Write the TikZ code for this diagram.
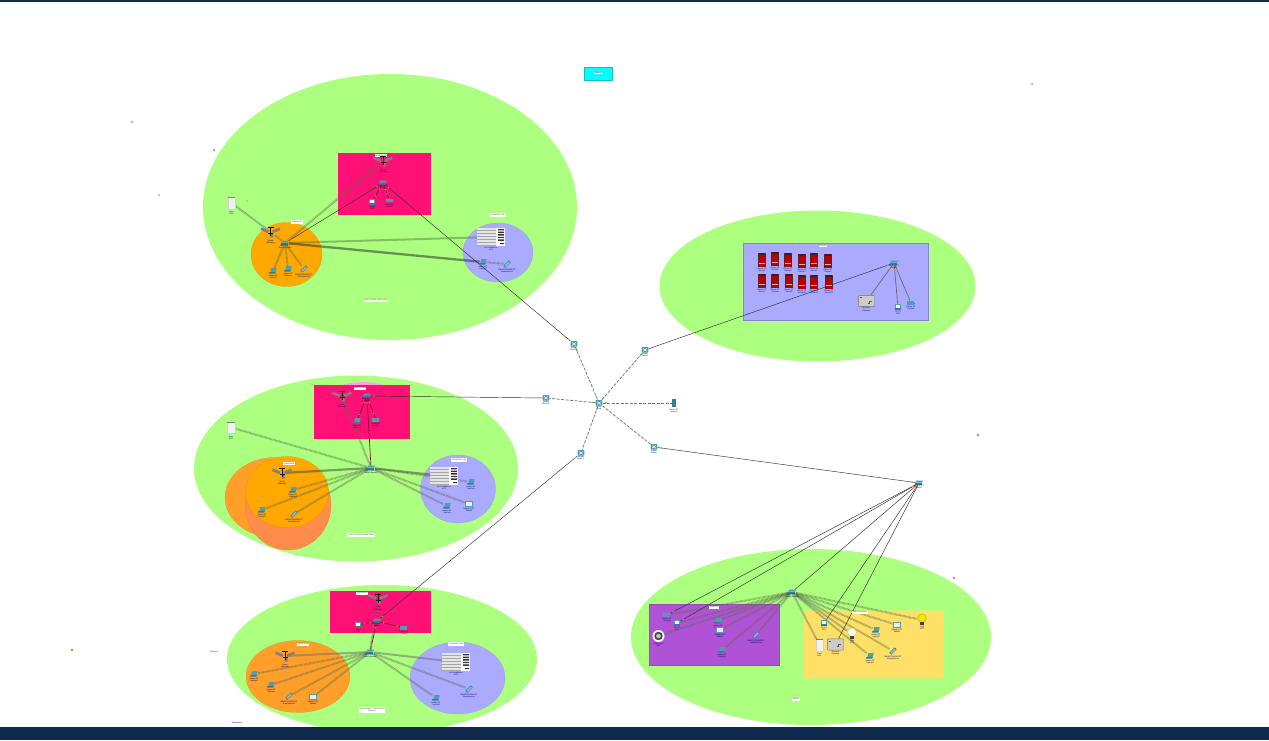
\documentclass[tikz,border=0pt]{standalone}
\usepackage{fontspec}
\setmainfont{Liberation Sans}
\usetikzlibrary{calc}
\definecolor{navy}{HTML}{0F2A4C}
\definecolor{lawn}{HTML}{ADFF80}
\definecolor{hotpink}{HTML}{FF1075}
\definecolor{orangeA}{HTML}{FFA800}
\definecolor{orangeB}{HTML}{FF9F2A}
\definecolor{coral}{HTML}{FF8C4A}
\definecolor{lav}{HTML}{AAAAFF}
\definecolor{purp}{HTML}{AF52D5}
\definecolor{yell}{HTML}{FFE066}
\definecolor{teal1}{HTML}{4F9DB3}
\definecolor{teal2}{HTML}{2F7F95}
\definecolor{wlcol}{HTML}{5E6E4E}
\definecolor{dotg}{HTML}{66CC33}
\definecolor{doto}{HTML}{FF8A20}
\definecolor{cyanbox}{HTML}{00FFFF}
\definecolor{cyanedge}{HTML}{10BFC0}
\definecolor{bulby}{HTML}{F2E800}
\definecolor{bulbw}{HTML}{FFFFE8}
\definecolor{softpink}{HTML}{FFA0E0}
\pgfdeclarelayer{regions}
\pgfdeclarelayer{links}
\pgfsetlayers{regions,links,main}
\tikzset{
  x=1pt,y=-1pt,
  region/.style={draw=#1!90!black,line width=.25pt,fill=#1},
  devbox/.style={inner sep=0pt,outer sep=0pt,shape=rectangle},
  devlabel/.style={inner sep=0pt,font=\fontsize{2}{2.3}\selectfont,text=black!60!blue,align=center},
  tag/.style={fill=white,inner sep=.7pt,font=\fontsize{2.2}{2.6}\selectfont,text=black!70,align=center},
  wl/.style={draw=wlcol,line width=2pt,dash pattern=on .7pt off .6pt,opacity=.58},
  wlsolid/.style={draw=#1,line width=2pt,opacity=.55},
  wired/.style={draw=black!82,line width=.45pt},
  pinkw/.style={draw=black!50!hotpink,line width=.7pt},
  trunk/.style={draw=black!55,line width=.75pt,dash pattern=on 3pt off 1.5pt},
}
\newcommand\base[5]{\node[devbox,minimum width=#4pt,minimum height=#5pt] (#1) at (#2,#3) {};}
\newcommand\lbl[4]{\node[devlabel] (#1-l) at (#2,#3) {#4};}
% switch
\newcommand\SW[4]{\base{#1}{#2}{#3}{8}{5}
  \begin{scope}[shift={(#2,#3)}]
  \fill[teal1] (-4,-.5) -- (-2.4,-2.5) -- (4,-2.5) -- (3.2,-.5) -- cycle;
  \fill[teal2] (-4,-.5) rectangle (3.2,1.6);
  \end{scope}\lbl{#1}{#2}{#3+4}{#4}}
% router
\newcommand\RT[4]{\base{#1}{#2}{#3}{7}{7}
  \begin{scope}[shift={(#2,#3)}]
  \fill[teal1,rounded corners=.8pt] (-3.4,-3) rectangle (3.4,2.6);
  \draw[white,line width=.55pt] (-1.8,-1.4) -- (1.8,1.2) (-1.8,1.2) -- (1.8,-1.4);
  \end{scope}\lbl{#1}{#2}{#3+5}{#4}}
% wireless tower
\newcommand\TW[4]{\base{#1}{#2}{#3}{8}{8}
  \begin{scope}[shift={(#2,#3)}]
  \draw[black!50,line width=2.6pt] (-9.5,-3.2) -- (-2,-.2) (9.5,-3.2) -- (2,-.2) (1.2,2) -- (1.2,5.5);
  \draw[black!90,line width=1pt] (0,-5.5) -- (0,4);
  \draw[black!90,line width=.7pt] (-3,-4.5) -- (3,-4.5) (-2.5,1.5) -- (2.5,1.5);
  \end{scope}\lbl{#1}{#2}{#3+10}{#4}}
% laptop
\newcommand\LP[4]{\base{#1}{#2}{#3}{7}{6}
  \begin{scope}[shift={(#2,#3)}]
  \fill[teal1] (-1.8,-3) -- (3.6,-3) -- (2.8,1) -- (-2.6,1) -- cycle;
  \fill[teal2] (-3.6,1) -- (2.8,1) -- (2.2,2.6) -- (-4,2.6) -- cycle;
  \end{scope}\lbl{#1}{#2}{#3+6}{#4}}
% desktop pc, white screen
\newcommand\PC[4]{\base{#1}{#2}{#3}{7}{7}
  \begin{scope}[shift={(#2,#3)}]
  \fill[teal1] (-2.8,-3.2) rectangle (2.8,1.2);
  \fill[white] (-1.8,-2.4) rectangle (1.8,.6);
  \fill[teal2] (-3.4,1.4) rectangle (3.4,3);
  \end{scope}\lbl{#1}{#2}{#3+6}{#4}}
% flat printer-like box
\newcommand\PR[4]{\base{#1}{#2}{#3}{8}{5}
  \begin{scope}[shift={(#2,#3)}]
  \fill[teal1] (-4,-2) rectangle (3,1.6);
  \fill[teal2] (3,-.5) rectangle (4.4,.6);
  \end{scope}\lbl{#1}{#2}{#3+5}{#4}}
% tablet
\newcommand\TB[4]{\base{#1}{#2}{#3}{7}{7}
  \begin{scope}[shift={(#2,#3)}]
  \fill[teal2] (-3.6,1.8) -- (1.6,-3.6) -- (3.6,-1.8) -- (-1.6,3.6) -- cycle;
  \fill[teal1!60!white] (-2.6,1.6) -- (1.6,-2.6) -- (2.6,-1.6) -- (-1.4,2.6) -- cycle;
  \end{scope}\lbl{#1}{#2}{#3+7}{#4}}
% flat screen
\newcommand\SC[4]{\base{#1}{#2}{#3}{8}{6}
  \begin{scope}[shift={(#2,#3)}]
  \fill[teal1] (-4,-2.6) rectangle (4,2.6);
  \fill[white!85!teal1] (-2.8,-1.6) rectangle (2.8,1.6);
  \end{scope}\lbl{#1}{#2}{#3+6}{#4}}
% red server
\newcommand\SV[4]{\base{#1}{#2}{#3}{8}{14}
  \begin{scope}[shift={(#2,#3)}]
  \fill[red!72!black] (-3.8,-7) rectangle (3.8,7);
  \fill[black!85] (-3.2,-7) rectangle (3.2,-5);
  \fill[black!80] (-3.8,-5) rectangle (-3,-1) (3,-5) rectangle (3.8,3) (-3.8,3) rectangle (-3,7);
  \fill[black!25] (-3,3) rectangle (3,3.7);
  \end{scope}\lbl{#1}{#2}{#3+9.5}{#4}}
% big unit with black stripes
\newcommand\AC[4]{\base{#1}{#2}{#3}{28}{18}
  \begin{scope}[shift={(#2,#3)}]
  \fill[white] (-14.4,-9) rectangle (14.4,9);
  \fill[black!10] (-14.4,-9) rectangle (5.4,9);
  \foreach \k in {-7,-4,...,8} {\fill[black!35] (-14.4,\k) rectangle (5.4,\k+.6);}
  \fill[black!80] (7,-8) rectangle (13,-6.6) (7,-5.4) rectangle (13,-4) (7,-2.8) rectangle (13,-1.4)
     (7,-.2) rectangle (13,1.2) (7,2.4) rectangle (13,3.8) (9,6) rectangle (13,7);
  \end{scope}\lbl{#1}{#2}{#3+12}{#4}}
% grey gateway box
\newcommand\GW[4]{\base{#1}{#2}{#3}{17}{12}
  \begin{scope}[shift={(#2,#3)}]
  \fill[black!20,draw=black!55,line width=.4pt,rounded corners=1pt] (-8.2,-5.6) rectangle (8.2,5.6);
  \draw[black!65,line width=.5pt] (-6.5,-3.5) -- (-4.5,-3.5) (1,2) -- (3,2) -- (3,0) -- (5,0);
  \end{scope}\lbl{#1}{#2}{#3+8.5}{#4}}
% door
\newcommand\DR[4]{\base{#1}{#2}{#3}{8}{12}
  \begin{scope}[shift={(#2,#3)}]
  \fill[black!6,draw=black!18,line width=.3pt] (-3.8,-6) rectangle (3.8,6);
  \fill[black!50] (-3.8,-6) rectangle (3.8,-5.3);
  \end{scope}\lbl{#1}{#2}{#3+10}{#4}}
% light bulb
\newcommand\LT[5]{\base{#1}{#2}{#3}{10}{12}
  \begin{scope}[shift={(#2,#3)}]
  \fill[#5,draw=#5!70!black,line width=.3pt] (0,-1.8) circle[radius=4.4];
  \fill[black!75] (-2.2,2.2) rectangle (2.2,5);
  \end{scope}\lbl{#1}{#2}{#3+8}{#4}}
% round fan
\newcommand\FN[4]{\base{#1}{#2}{#3}{12}{12}
  \begin{scope}[shift={(#2,#3)}]
  \fill[white] (0,0) circle[radius=6];
  \fill[black!75] (0,0) circle[radius=4.2];
  \fill[black!25] (0,0) circle[radius=2.4];
  \end{scope}\lbl{#1}{#2}{#3+8.5}{#4}}
% narrow server
\newcommand\NS[4]{\base{#1}{#2}{#3}{5}{8}
  \fill[teal2] (#2-2.4,#3-4) rectangle (#2+2.4,#3+4);
  \lbl{#1}{#2}{#3+8}{#4}}
% connector with link dots
\newcommand\wire[4][dotg]{\draw[#2] (#3) -- (#4);
  \fill[#1] ($(#3)!7pt!(#4)$) circle[radius=.8];
  \fill[dotg] ($(#4)!7pt!(#3)$) circle[radius=.8];}
\begin{document}
\begin{tikzpicture}
\useasboundingbox (0,0) rectangle (1269,740);
% ---------- regions
\begin{pgfonlayer}{regions}
\fill[white] (0,0) rectangle (1269,740);
\fill[lawn] (390,207) ellipse[x radius=187,y radius=133];
\fill[lawn] (356,468.5) ellipse[x radius=162,y radius=93];
\fill[lawn] (382,659) ellipse[x radius=155,y radius=74];
\fill[lawn] (817.5,286) ellipse[x radius=158,y radius=75.5];
\fill[lawn] (811,637) ellipse[x radius=180,y radius=88];
\fill[hotpink] (338,153) rectangle (431,215);
\fill[softpink] (363,393) ellipse[x radius=30,y radius=11];
\fill[hotpink] (314,385) rectangle (410,439);
\fill[hotpink] (330,591) rectangle (431,633);
\draw[region=orangeA] (286.5,254.5) ellipse[x radius=35.5,y radius=32];
\draw[region=lav] (498,252.5) ellipse[x radius=35,y radius=29.5];
\draw[region=orangeB] (275,497.5) ellipse[x radius=50,y radius=40];
\draw[region=coral] (288,505) ellipse[x radius=43,y radius=45];
\draw[region=orangeA] (287,492) ellipse[x radius=41.5,y radius=35.5];
\draw[region=lav] (458,489) ellipse[x radius=37.5,y radius=34];
\draw[region=orangeB] (298,676.5) ellipse[x radius=52,y radius=36];
\draw[region=lav] (457.5,678) ellipse[x radius=47.5,y radius=36];
\draw[draw=black!22!lav,line width=.6pt,fill=lav] (743,243) rectangle (928,320);
\draw[draw=black!12!purp,line width=.5pt,fill=purp] (649.5,604.5) rectangle (779,665);
\draw[draw=lawn!60!yell,line width=.8pt,fill=yell] (803,610) rectangle (943,678);
% stray points
\fill[black!25] (132,122) circle[radius=1.6];
\fill[violet!40] (214,150) circle[radius=1.5];
\fill[black!20] (159,195) circle[radius=1.5];
\fill[black!35] (247,201) circle[radius=.9];
\fill[black!25] (1032,84) circle[radius=1.5];
\fill[black!35] (978,435) circle[radius=1.6];
\fill[violet!50] (954,578) circle[radius=1.3];
\fill[olive!80] (72,650) circle[radius=1.4];
\end{pgfonlayer}
% ---------- top-level
\node[draw=cyanedge,line width=.5pt,fill=cyanbox,minimum width=28pt,minimum height=13pt,inner sep=0pt] (cloud) at (598,73.5) {};
\node[fill=white,inner sep=.7pt,font=\fontsize{2}{2.3}\selectfont] (cloudt) at (598,73) {Network};
% ---------- backbone
\RT{core}{599}{403}{Router\\Core}
\RT{r1}{574}{344}{Router\\Block A}
\RT{r2}{645}{350}{Router\\Server}
\RT{r3}{546}{398}{Router\\Block B}
\RT{r4}{654}{447}{Router\\Admin}
\RT{r5}{581}{453}{Router\\Block C}
\NS{srv}{674}{403}{Server-PT\\Server0}
% ---------- block A
\node[tag] (a-t1) at (381,155.5) {Staff Room};
\node[tag] (a-t2) at (297,222) {Classroom};
\node[tag] (a-t3) at (498,215) {Computer Lab};
\node[tag] (a-t4) at (376,300) {Multi-storied Classroom};
\TW{a-tw1}{383}{161}{Home\\Gateway}
\SW{a-sw1}{383}{183}{2960-24TT\\Switch}
\PC{a-p1}{372}{202}{Laptop\\PC0}
\PR{a-p2}{389.5}{200.5}{Printer-PT\\Printer0}
\DR{a-door}{231.5}{203}{Door\\IoT0}
\TW{a-tw2}{270.5}{232}{Home\\Gateway}
\SW{a-sw2}{285}{243}{2960-24TT\\Switch Access}
\LP{a-l1}{273}{271}{Laptop-PT\\Laptop0}
\LP{a-l2}{288}{269}{Laptop-PT\\Laptop1}
\TB{a-t}{304}{269}{SMARTPHONE-PT\\Smartphone0}
\AC{a-ac}{491}{237}{Air Conditioner\\IoT1}
\LP{a-l3}{483}{262}{Laptop-PT\\Laptop2}
\TB{a-t5}{507}{264}{SMARTPHONE-PT\\Smartphone1}
% ---------- block B
\node[tag] (b-t1) at (360,388) {Staff Room};
\node[tag] (b-t2) at (289,463.5) {Classroom};
\node[tag] (b-t3) at (459,460) {Computer Lab};
\node[tag] (b-t4) at (361,535) {CSE and EEE Department};
\TW{b-tw1}{342}{396}{Home\\Gateway}
\SW{b-sw1}{367}{396}{2960-24TT\\Switch}
\LP{b-p1}{357}{421}{Laptop-PT\\Laptop0}
\PR{b-p2}{376}{420}{Printer-PT\\Printer0}
\DR{b-door}{231}{427.5}{Door\\IoT0}
\SW{b-sw2}{371}{468}{2960-24TT\\Switch Access}
\TW{b-tw2}{282}{473}{Home\\Gateway}
\LP{b-l1}{293}{490}{Laptop-PT\\Laptop1}
\LP{b-l2}{262}{510}{Laptop-PT\\Laptop2}
\TB{b-t}{294}{514}{SMARTPHONE-PT\\Smartphone0}
\AC{b-ac}{444}{476}{Air Conditioner\\IoT1}
\LP{b-l3}{471}{482}{Laptop-PT\\Laptop3}
\LP{b-l4}{447}{506}{Laptop-PT\\Laptop4}
\SC{b-s}{469}{504}{TabletPC-PT\\Tablet0}
% ---------- block C
\node[tag] (c-t1) at (362,593) {Staff Room};
\node[tag] (c-t2) at (303,644) {Classroom};
\node[tag] (c-t3) at (456,644) {Computer Lab};
\node[tag] (c-t4) at (372,710) {Department of Textile and\\Apparel};
\node[devlabel,text=violet] (c-t5) at (214,652) {Wireless};
\node[devlabel] (c-t6) at (237,723) {Department};
\TW{c-tw1}{378}{598.5}{Home\\Gateway}
\SW{c-sw1}{377}{621}{2960-24TT\\Switch}
\PC{c-p1}{358}{625}{Laptop\\PC0}
\PR{c-p2}{404}{628}{Printer-PT\\Printer0}
\SW{c-sw2}{370}{652}{2960-24TT\\Switch Access}
\TW{c-tw2}{285}{656}{Home\\Gateway}
\LP{c-l1}{254}{674}{Laptop-PT\\Laptop0}
\LP{c-l2}{271}{685}{Laptop-PT\\Laptop1}
\TB{c-t}{289}{696}{SMARTPHONE-PT\\Smartphone0}
\SC{c-s}{313}{697}{TabletPC-PT\\Tablet0}
\AC{c-ac}{456}{662}{Air Conditioner\\IoT1}
\TB{c-t7}{469}{689}{SMARTPHONE-PT\\Smartphone1}
\LP{c-l3}{436}{698}{Laptop-PT\\Laptop2}
% ---------- server block
\node[tag] (d-t) at (823,246) {Servers};
\foreach \n/\sx/\sy in {1/762/260,2/775/259,3/788/260,4/802/261,5/814/260,6/828/261,
  7/762/281,8/775/281,9/789/281,10/802/282,11/814/282,12/829/282}{
  \SV{d-s\n}{\sx}{\sy}{Server-PT\\Server\n}
}
\SW{d-sw}{894}{263}{2960-24TT\\Switch}
\GW{d-gw}{866.5}{301}{Wireless\\Gateway}
\PC{d-p1}{898}{307}{PC-PT\\PC0}
\PR{d-p2}{911}{303}{Printer-PT\\Printer0}
% ---------- admin block
\node[tag] (e-t1) at (714,607) {Finance};
\node[tag] (e-t2) at (860,612) {Administration};
\node[tag] (e-t3) at (796,699) {Admin};
\SW{e-up}{919}{483}{2960-24TT\\Switch}
\SW{e-sw}{792}{592}{2960-24TT\\Switch Access}
\PR{e-a1}{667}{615}{Printer-PT\\Printer0}
\PC{e-a2}{677}{623}{PC-PT\\PC0}
\FN{e-fan}{658.5}{636}{Ceiling Fan\\IoT0}
\LP{e-a3}{718}{621}{Laptop-PT\\Laptop0}
\SC{e-a4}{720}{630}{TabletPC-PT\\Tablet0}
\TB{e-a5}{756}{635}{SMARTPHONE-PT\\Smartphone0}
\LP{e-a6}{722}{650}{Laptop-PT\\Laptop1}
\PC{e-y1}{824}{623}{PC-PT\\PC1}
\DR{e-door}{819.5}{645}{Door\\IoT1}
\GW{e-gw}{835.5}{644.5}{Wireless\\Gateway}
\LT{e-lw}{852}{634}{Light\\IoT2}{bulbw}
\LP{e-y2}{876}{630}{Laptop-PT\\Laptop2}
\SC{e-y3}{897}{625}{TabletPC-PT\\Tablet1}
\LT{e-ly}{922}{620}{Light\\IoT3}{bulby}
\LP{e-y4}{870}{656}{Laptop-PT\\Laptop3}
\TB{e-y5}{893}{651}{SMARTPHONE-PT\\Smartphone1}
% ---------- connectors
\begin{pgfonlayer}{links}
% backbone
\foreach \t in {r1,r2,r3,r4,r5,srv}{\wire{trunk}{core}{\t}}
\wire{wired}{r1}{a-sw1}
\wire{wired}{r2}{d-sw}
\wire{wired}{r3}{b-sw1}
\wire{wired}{r4}{e-up}
\wire{wired}{r5}{c-sw1}
% block A
\draw[wl] (a-door) -- (a-tw2);
\draw[wl] (a-sw2) -- (a-tw1);
\draw[wl] (a-sw2) -- (a-tw2);
\foreach \t in {a-l1,a-l2,a-t}{\draw[wl] (a-sw2) -- (\t);}
\draw[wlsolid=black!45!lawn] (a-sw2) -- (a-ac);
\draw[wlsolid=black!80,line width=2.3pt] (a-sw2) -- (a-l3);
\draw[wl] (a-l3) -- (a-t5);
\wire{wired}{a-sw1}{a-sw2}
\wire[doto]{pinkw}{a-sw1}{a-p1}
\wire[doto]{pinkw}{a-sw1}{a-p2}
% block B
\foreach \t in {b-door,b-tw1,b-l1,b-l2,b-t,b-l3,b-l4,b-s}{\draw[wl] (b-sw2) -- (\t);}
\draw[wlsolid=black!70,line width=2.2pt] (b-sw2) -- (b-tw2);
\draw[wlsolid=black!70] (b-sw2) -- (b-ac);
\wire[doto]{pinkw}{b-sw1}{b-sw2}
\wire[doto]{pinkw}{b-sw1}{b-p1}
\wire[doto]{pinkw}{b-sw1}{b-p2}
% block C
\foreach \t in {c-l1,c-l2,c-t,c-s,c-t7,c-l3,c-tw1}{\draw[wl] (c-sw2) -- (\t);}
\draw[wlsolid=black!55,line width=2.1pt] (c-sw2) -- (c-tw2);
\draw[wlsolid=black!55] (c-sw2) -- (c-ac);
\wire[doto]{pinkw}{c-sw1}{c-sw2}
\wire[doto]{pinkw}{c-sw1}{c-p1}
\wire[doto]{pinkw}{c-sw1}{c-p2}
% server block
\wire[doto]{draw=black!60,line width=.7pt}{d-sw}{d-gw}
\wire[doto]{draw=black!60,line width=.7pt}{d-sw}{d-p1}
\wire[doto]{draw=black!60,line width=.7pt}{d-sw}{d-p2}
% admin block
\foreach \t in {e-a1,e-a2,e-fan,e-a3,e-a4,e-a5,e-a6,e-door,e-lw,e-y2,e-y3,e-ly,e-y4,e-y5}{\draw[wl] (e-sw) -- (\t);}
\wire[doto]{wired}{e-up}{e-sw}
\wire[doto]{wired}{e-up}{e-a1}
\wire[doto]{wired}{e-up}{e-a2}
\wire[doto]{wired}{e-up}{e-y1}
\wire[doto]{wired}{e-up}{e-gw}
\end{pgfonlayer}
% frame bars
\fill[navy] (0,0) rectangle (1269,2);
\fill[navy] (0,727) rectangle (1269,740);
\end{tikzpicture}
\end{document}
